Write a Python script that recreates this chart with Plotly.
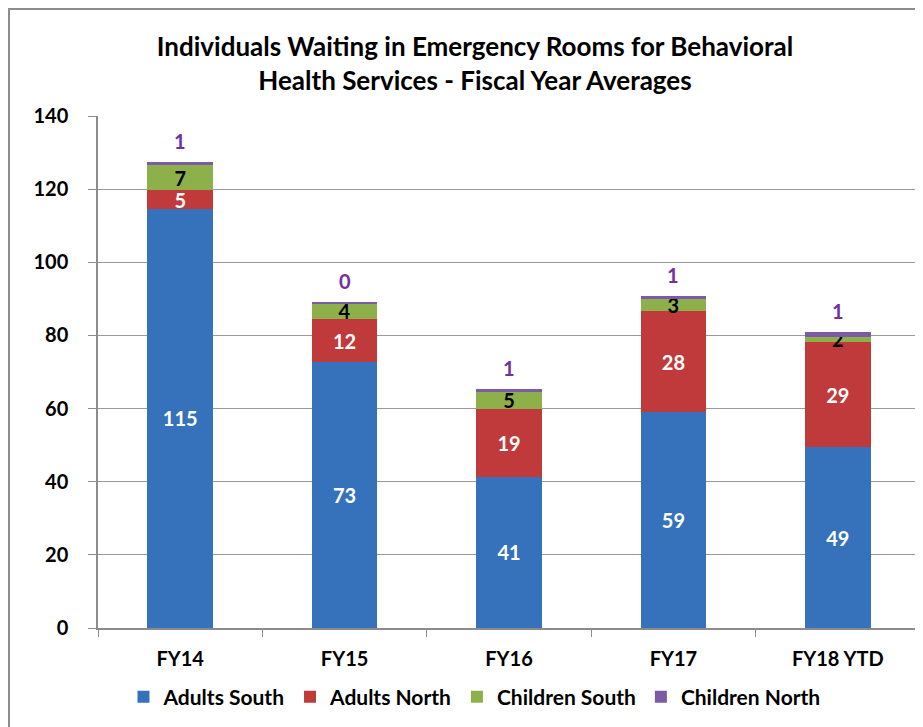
import plotly.graph_objects as go

categories = ["FY14", "FY15", "FY16", "FY17", "FY18 YTD"]
adults_south = [114.6, 72.6, 41.3, 59.0, 49.4]
adults_north = [5.1, 11.8, 18.7, 27.6, 28.7]
children_south = [6.8, 4.4, 4.6, 3.4, 1.6]
children_north = [0.9, 0.45, 0.8, 0.8, 1.3]
y_ticks = [0, 20, 40, 60, 80, 100, 120, 140]

FONT = "Lato"
fig = go.Figure()

def add(name, vals, color, textcolor, show_text=True):
    fig.add_trace(go.Bar(
        name=name, x=categories, y=vals,
        marker=dict(color=color, line=dict(width=0)),
        text=[f"{round(v)}" for v in vals] if show_text else None,
        textposition="inside" if show_text else "none",
        insidetextanchor="middle",
        textangle=0,
        constraintext="none",
        textfont=dict(family=FONT, size=20, color=textcolor, weight="bold"),
        cliponaxis=False,
    ))

add("Adults South", adults_south, "#3672BC", "white")
add("Adults North", adults_north, "#C03A3B", "white")
add("Children South", children_south, "#8DB04A", "black")
add("Children North", children_north, "#7B5AA6", "#7030A0", show_text=False)

totals = [a + b + c + d for a, b, c, d in zip(adults_south, adults_north, children_south, children_north)]
for cat, tot, v in zip(categories, totals, children_north):
    fig.add_annotation(x=cat, y=tot, text=f"<b>{round(v)}</b>", showarrow=False,
                       yanchor="bottom", yshift=7,
                       font=dict(family=FONT, size=20, color="#7030A0"))

fig.update_layout(
    width=923, height=727,
    barmode="stack", bargap=0.6,
    paper_bgcolor="white", plot_bgcolor="white",
    margin=dict(l=90, r=11, t=108, b=107),
    font=dict(family=FONT, size=20, color="black", weight="bold"),
    title=dict(text="Individuals Waiting in Emergency Rooms for Behavioral<br>Health Services - Fiscal Year Averages",
               x=467/923, xref="container", xanchor="center",
               y=1 - 48/727, yref="container", yanchor="middle",
               font=dict(family=FONT, size=26, color="black", weight="bold")),
    legend=dict(orientation="h", x=0.458, xanchor="center", y=-0.135, yanchor="middle",
                font=dict(family=FONT, size=21, color="black", weight="bold"),
                itemwidth=30, tracegroupgap=0, traceorder="normal"),
    showlegend=True,
)
fig.update_xaxes(showline=True, linecolor="#8C8C8C", linewidth=1.5,
                 ticks="outside", tickson="boundaries", ticklen=7, tickcolor="#8C8C8C",
                 ticklabelstandoff=12,
                 tickfont=dict(family=FONT, size=20, color="black", weight="bold"))
fig.update_yaxes(range=[0, 140], tickvals=y_ticks, showline=True, linecolor="#8C8C8C", linewidth=1.5,
                 showgrid=True, gridcolor="#9A9A9A", gridwidth=1.2,
                 ticks="outside", ticklen=8, tickcolor="#8C8C8C", ticklabelstandoff=16,
                 tickfont=dict(family=FONT, size=20, color="black", weight="bold"),
                 zeroline=False)
fig.add_shape(type="rect", xref="paper", yref="paper",
              x0=-89 / 822, x1=1.2, y0=-0.4, y1=619 / 512,
              line=dict(color="#8C8C8C", width=2), layer="below")
fig.write_html("out.html")
